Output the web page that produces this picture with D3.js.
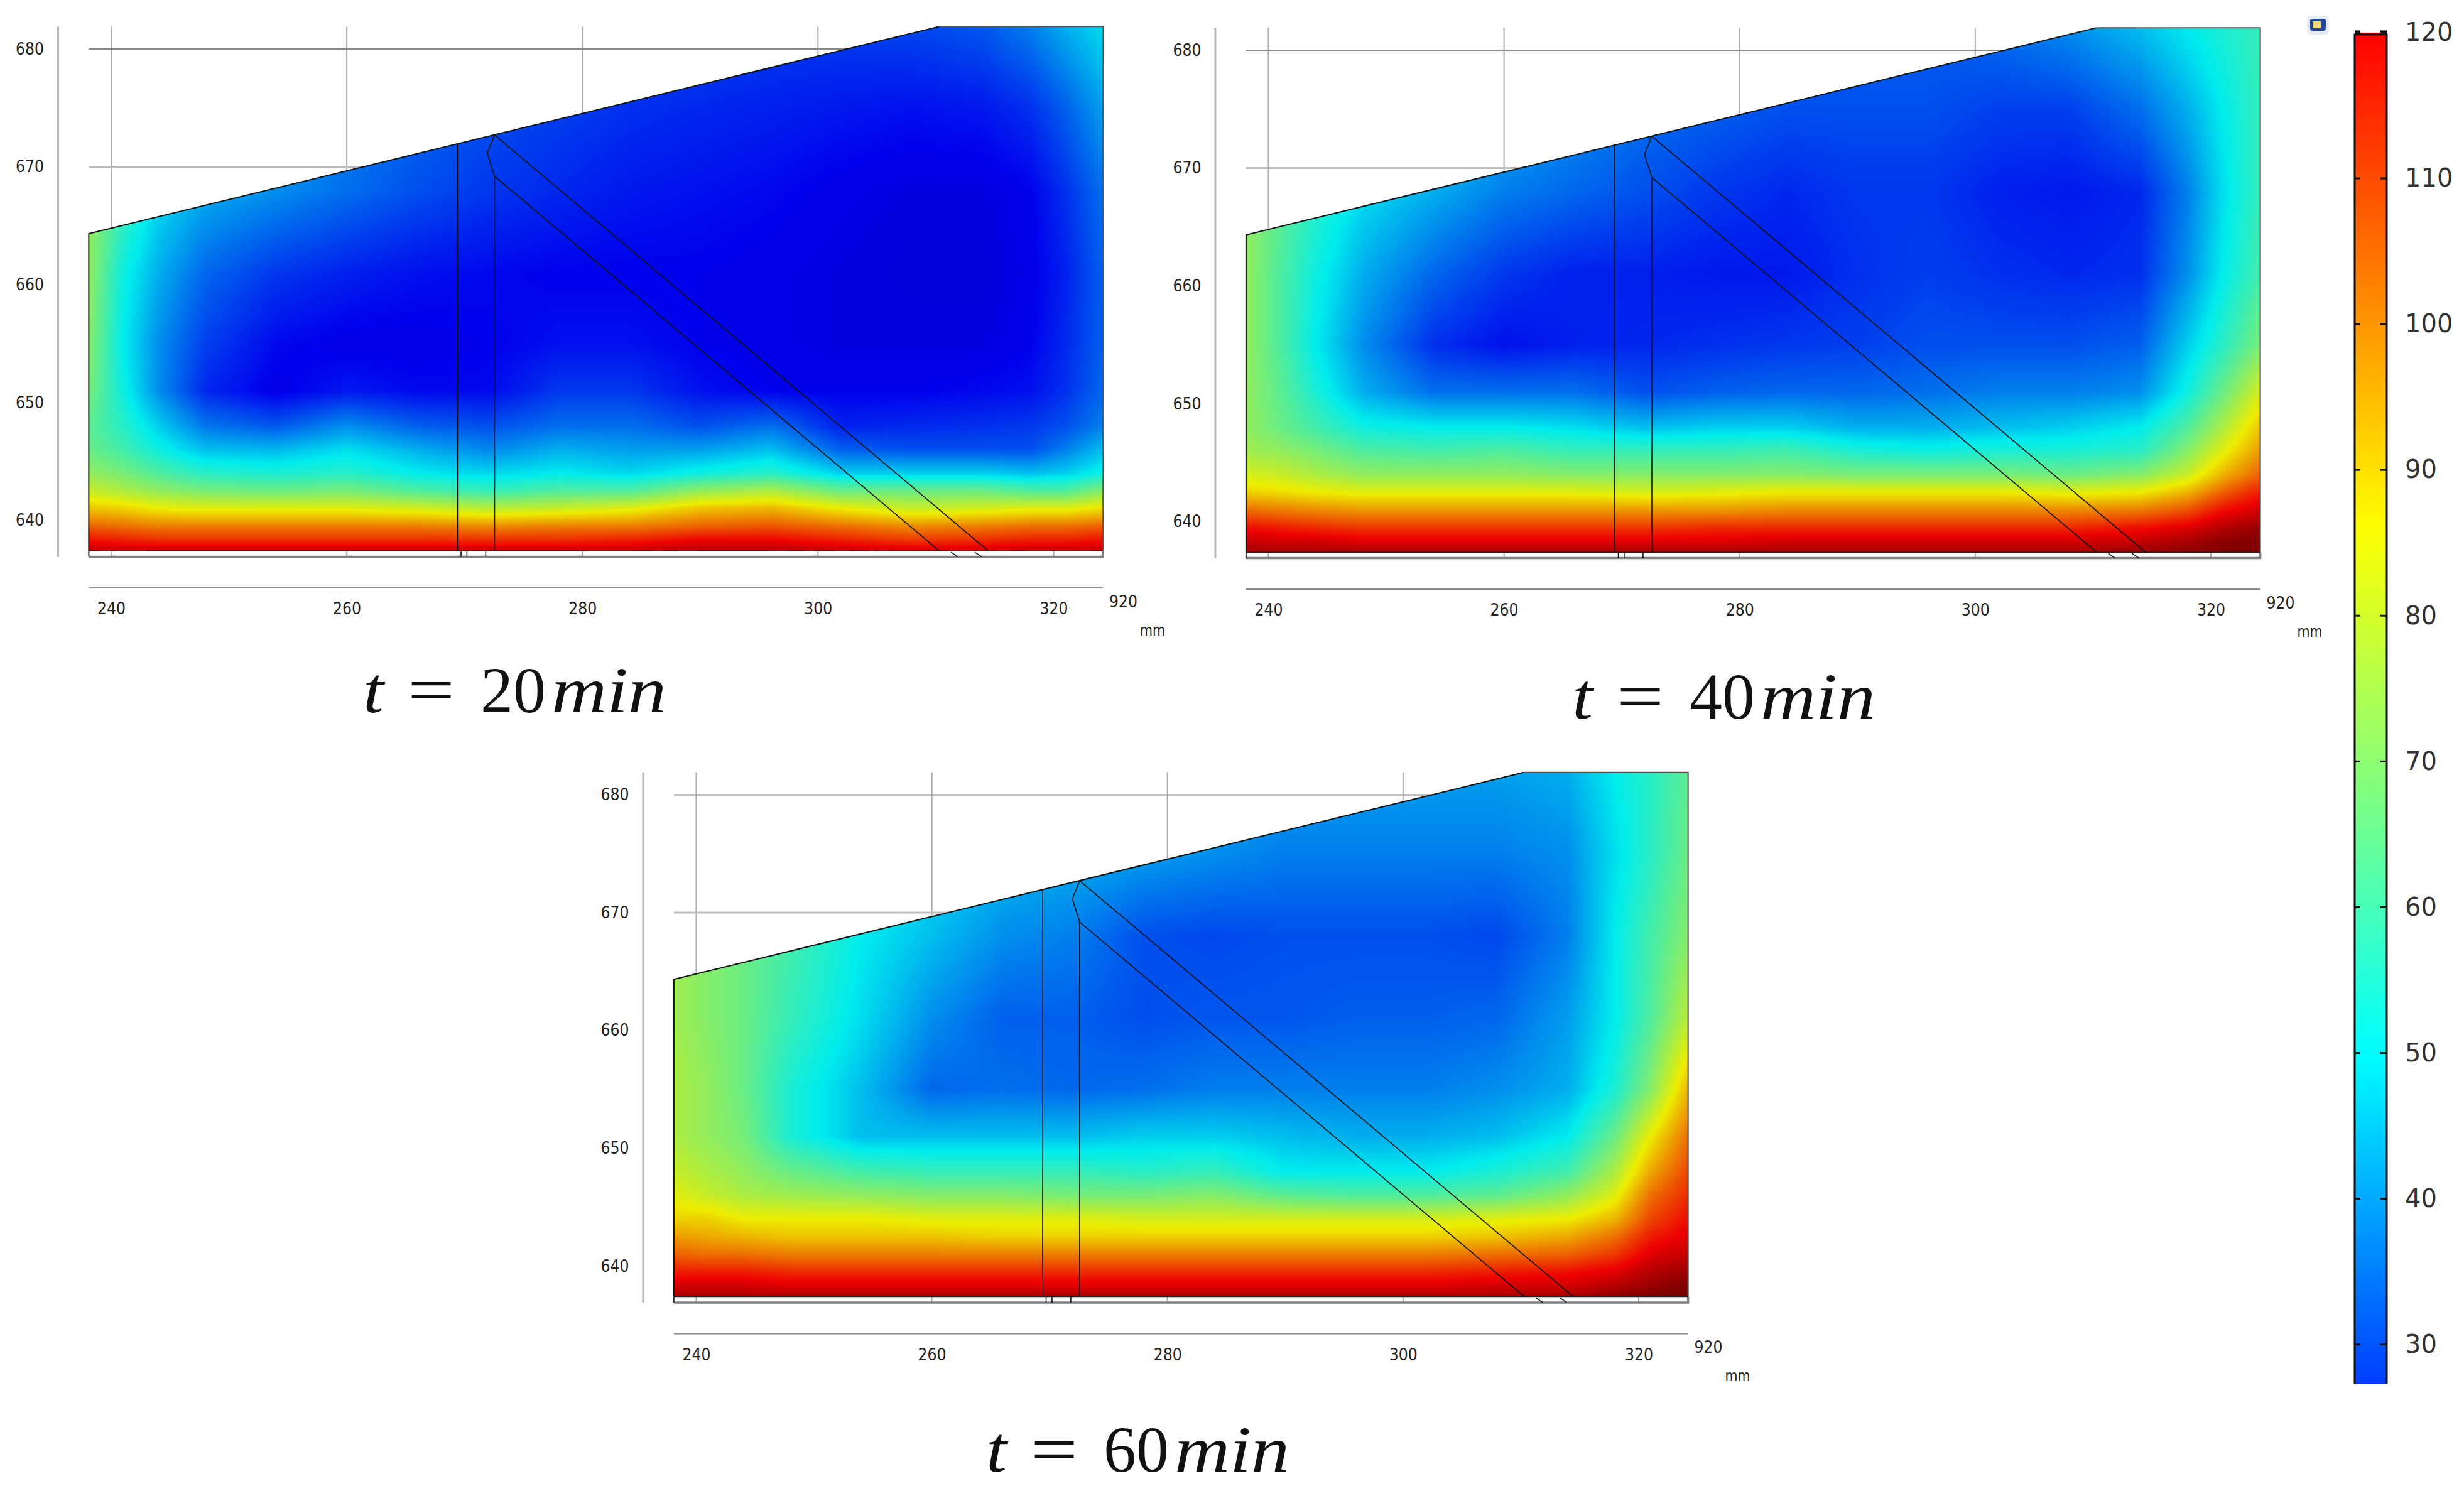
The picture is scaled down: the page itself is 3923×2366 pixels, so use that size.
<!DOCTYPE html>
<html>
<head>
    <meta charset="utf-8">
    <script src="https://d3js.org/d3.v7.min.js"></script>
    <style>
        body { margin: 0; background: white; }
        svg { display: block; }
        .ax text { font-family: "DejaVu Sans"; fill: #222; }
        .title { font-family: "Liberation Serif"; font-size: 104px; fill: #111; }
    </style>
</head>
<body>
    <svg id="chart" width="3923" height="2366"></svg>
<script>
    // temperature, at these positions (mm)
    var xNodes = [238.1, 241, 244, 248, 254, 260, 266, 272, 278, 284, 290, 296, 302, 308, 314, 318, 321, 324.2]
    var yNodes = [681.9, 675, 668, 661, 655, 651, 648, 646, 644, 642.5, 641, 639.5, 638.3, 637.4]

    var temp20 = [
        [60,55,50,45,40,36,33,32,31,30,29,28,28,29,31,36,42,48],
        [60,55,50,45,40,36,33,30,28,26,25,24,23,22,23,26,32,40],
        [72,60,48,42,38,34,30,27,25,23,22,21,19,18,18,20,26,34],
        [72,52,42,33,27,24,22,21,20,20,20,19,18,17,17,19,24,32],
        [70,50,38,28,21,19,19,20,22,22,20,19,18,18,18,20,25,32],
        [68,52,38,25,19,23,21,21,27,27,22,20,20,20,21,22,26,33],
        [64,56,46,35,31,38,32,30,34,34,30,34,24,25,26,27,30,36],
        [66,60,52,44,43,48,42,37,42,40,40,44,32,30,30,30,36,44],
        [72,68,62,56,54,56,50,47,50,47,52,56,46,46,46,44,46,52],
        [80,76,72,68,66,68,62,58,62,62,72,76,66,66,66,62,62,70],
        [92,90,86,84,84,84,82,78,80,84,92,94,86,80,82,84,84,88],
        [106,104,102,102,102,102,102,100,102,102,106,108,104,100,102,104,104,106],
        [118,116,114,114,114,114,114,114,114,116,120,120,116,112,114,116,116,118],
        [126,126,126,126,126,126,126,126,126,126,128,128,126,124,124,126,126,126]
    ]
    var temp40 = [
        [66,62,58,52,46,42,38,34,32,32,32,32,34,38,44,50,54,58],
        [68,64,58,52,46,42,38,34,32,30,30,30,28,28,34,42,50,58],
        [72,64,56,48,42,36,33,30,27,25,27,27,24,23,25,36,48,58],
        [72,62,52,42,33,27,24,24,23,23,26,28,26,25,26,38,50,60],
        [72,62,50,38,26,22,24,25,26,27,28,30,30,30,32,46,56,68],
        [72,64,54,42,34,34,34,30,32,33,33,34,36,36,38,52,66,82],
        [72,66,60,52,50,50,48,44,46,46,42,42,44,46,50,62,76,92],
        [74,72,68,62,60,62,58,58,58,60,54,52,54,54,56,70,84,98],
        [82,80,76,72,72,72,70,70,70,70,68,68,68,66,70,80,94,106],
        [90,88,86,84,84,84,84,82,84,86,86,86,86,84,86,94,106,116],
        [104,102,100,98,98,98,98,98,98,100,100,100,100,100,102,108,118,124],
        [118,116,114,112,112,112,112,112,114,114,114,114,114,114,118,122,128,132],
        [126,124,124,122,122,122,122,122,122,124,124,124,124,124,126,130,134,136],
        [130,130,130,130,130,130,130,130,130,130,130,130,130,130,132,134,136,136]
    ]
    var temp60 = [
        [70,68,66,62,56,52,48,44,42,42,40,40,40,40,42,50,56,64],
        [72,68,64,60,54,48,44,42,40,38,36,36,36,36,38,48,56,66],
        [74,70,66,60,50,44,38,36,30,29,30,30,30,29,36,50,60,70],
        [74,70,66,58,48,38,32,32,30,31,31,32,32,33,40,50,62,78],
        [76,72,66,54,44,33,34,33,34,36,36,36,36,38,42,54,70,94],
        [76,72,68,54,44,44,44,44,46,46,44,42,42,44,50,66,86,104],
        [80,76,72,66,60,58,58,58,56,58,50,50,50,54,60,76,96,110],
        [84,80,76,74,72,70,70,68,68,70,64,62,62,64,72,84,104,114],
        [90,90,86,86,86,84,84,84,82,82,82,82,82,84,86,94,110,118],
        [98,96,94,92,92,92,90,90,90,90,90,90,90,92,96,104,116,122],
        [106,104,104,102,102,102,102,102,102,102,102,102,102,104,106,112,122,126],
        [116,116,116,114,114,114,114,114,114,114,114,114,114,116,118,122,128,132],
        [124,124,124,122,122,122,122,122,122,122,122,122,122,124,124,128,132,136],
        [130,130,130,130,130,130,130,130,130,130,130,130,130,130,130,134,136,138]
    ]

    var xTicks = [240, 260, 280, 300, 320]
    var yTicks = [640, 650, 660, 670, 680]
    var gridX = [240, 260, 280, 300]
    var barTicks = [30, 40, 50, 60, 70, 80, 90, 100, 110, 120]

    // geometry of the part, mm
    var outline = [[238.1, 637.4], [238.1, 664.33], [310.26, 681.9], [324.2, 681.9], [324.2, 637.4]]
    var plates = [
        [[269.4, 671.95], [269.4, 637.4]],
        [[272.55, 672.7], [271.93, 671.16], [272.55, 669.2], [272.55, 637.4]],
        [[272.55, 672.7], [314.46, 637.4]],
        [[272.55, 669.2], [310.3, 637.4]],
        [[311.3, 637.3], [311.85, 636.9]],
        [[313.3, 637.3], [313.9, 636.9]],
        [[269.7, 637.4], [269.7, 636.9]],
        [[270.2, 637.4], [270.2, 636.9]],
        [[271.8, 637.4], [271.8, 636.9]]
    ]

    var panels = [
        { name: "t20", temp: temp20, dx: 0, dy: 0, label: "20", tx: 578, ty: 1134 },
        { name: "t40", temp: temp40, dx: 1842.5, dy: 2, label: "40", tx: 2503, ty: 1144 },
        { name: "t60", temp: temp60, dx: 931.5, dy: 1187.4, label: "60", tx: 1570, ty: 2343 }
    ]

    var color = d3.scaleLinear()
        .domain([4, 20, 50, 68, 86, 120, 137])
        .range(["#00007f", "#0000ff", "#00ffff", "#80ff80", "#ffff00", "#ff0000", "#7f0000"])
        .clamp(true)

    var svg = d3.select("#chart")
    var defs = svg.append("defs")
    var line = d3.line()

    // y nodes run downward, flip them for bisect
    var yAsc = yNodes.slice().reverse()

    function heatImage(temp, x, y) {
        var x0 = Math.round(x(xNodes[0])), x1 = Math.round(x(xNodes[xNodes.length - 1]))
        var y0 = Math.round(y(yNodes[0])), y1 = Math.round(y(yNodes[yNodes.length - 1]))
        var w = x1 - x0, h = y1 - y0
        var canvas = document.createElement("canvas")
        canvas.width = w
        canvas.height = h
        var ctx = canvas.getContext("2d")
        var img = ctx.createImageData(w, h)
        var lut = d3.range(0, 1501).map(d => d3.rgb(color(d / 10)))
        // the field is a little duller than the bar
        var shade = 0.93
        for (var j = 0; j < h; j++) {
            var my = y.invert(y0 + j + 0.5)
            var b = Math.min(Math.max(d3.bisectRight(yAsc, my), 1), yAsc.length - 1)
            var fy = (my - yAsc[b - 1]) / (yAsc[b] - yAsc[b - 1])
            var rowLow = temp[yAsc.length - b], rowHigh = temp[yAsc.length - 1 - b]
            for (var i = 0; i < w; i++) {
                var mx = x.invert(x0 + i + 0.5)
                var a = Math.min(Math.max(d3.bisectRight(xNodes, mx), 1), xNodes.length - 1)
                var fx = (mx - xNodes[a - 1]) / (xNodes[a] - xNodes[a - 1])
                var low = rowLow[a - 1] + (rowLow[a] - rowLow[a - 1]) * fx
                var high = rowHigh[a - 1] + (rowHigh[a] - rowHigh[a - 1]) * fx
                var c = lut[Math.round((low + (high - low) * fy) * 10)]
                var p = (j * w + i) * 4
                img.data[p] = c.r * shade
                img.data[p + 1] = c.g * shade
                img.data[p + 2] = c.b * shade
                img.data[p + 3] = 255
            }
        }
        ctx.putImageData(img, 0, 0)
        return { href: canvas.toDataURL("image/png"), x: x0, y: y0, w: w, h: h }
    }

    function drawPanel(p) {
        var x = d3.scaleLinear().domain([240, 320]).range([177 + p.dx, 1677.4 + p.dx])
        var y = d3.scaleLinear().domain([680, 640]).range([78 + p.dy, 828.4 + p.dy])
        var toPx = d => [x(d[0]), y(d[1])]
        var g = svg.append("g").attr("class", "panel")

        var leftEdge = xNodes[0], rightEdge = xNodes[xNodes.length - 1]
        var top = yNodes[0], bottom = yNodes[yNodes.length - 1]
        var stripBottom = 636.9

        // grid behind the part
        g.selectAll(".gridx").data(gridX).enter().append("line")
            .attr("x1", d => x(d)).attr("x2", d => x(d))
            .attr("y1", y(top)).attr("y2", y(bottom))
            .attr("stroke", "#aaa").attr("stroke-width", 2)
        g.selectAll(".gridy").data([670, 680]).enter().append("line")
            .attr("x1", x(leftEdge)).attr("x2", x(310))
            .attr("y1", d => y(d)).attr("y2", d => y(d))
            .attr("stroke", d => d == 670 ? "#bbb" : "#888")
            .attr("stroke-width", d => d == 670 ? 3 : 2)

        // left axis rule
        g.append("line")
            .attr("x1", 92.5 + p.dx).attr("x2", 92.5 + p.dx)
            .attr("y1", y(top)).attr("y2", y(stripBottom))
            .attr("stroke", "#b8b8b8").attr("stroke-width", 3)

        // strip under the part
        g.selectAll(".stripTick").data(xTicks).enter().append("line")
            .attr("x1", d => x(d)).attr("x2", d => x(d))
            .attr("y1", y(bottom)).attr("y2", y(stripBottom))
            .attr("stroke", "#aaa").attr("stroke-width", 2)
        g.append("path")
            .attr("d", line([[leftEdge, stripBottom], [rightEdge, stripBottom], [rightEdge, bottom]].map(toPx)))
            .attr("fill", "none").attr("stroke", "#808080").attr("stroke-width", 3.5)
        g.append("line")
            .attr("x1", x(leftEdge)).attr("x2", x(leftEdge))
            .attr("y1", y(bottom)).attr("y2", y(stripBottom))
            .attr("stroke", "#333").attr("stroke-width", 2)

        // temperature field, clipped to the part
        defs.append("clipPath").attr("id", "clip" + p.name)
            .append("path").attr("d", line(outline.map(toPx)) + "Z")
        var heat = heatImage(p.temp, x, y)
        g.append("image")
            .attr("href", heat.href)
            .attr("x", heat.x).attr("y", heat.y)
            .attr("width", heat.w).attr("height", heat.h)
            .attr("clip-path", "url(#clip" + p.name + ")")

        // part outline and plates
        g.append("path")
            .attr("d", line(outline.slice(0, 3).map(toPx)))
            .attr("fill", "none").attr("stroke", "#111").attr("stroke-width", 2)
        g.append("path")
            .attr("d", line(outline.slice(2).map(toPx)))
            .attr("fill", "none").attr("stroke", "#555").attr("stroke-width", 2)
        g.append("line")
            .attr("x1", x(leftEdge)).attr("x2", x(rightEdge))
            .attr("y1", y(bottom)).attr("y2", y(bottom))
            .attr("stroke", "#222").attr("stroke-width", 1.5)
        g.selectAll(".plate").data(plates).enter().append("path")
            .attr("d", d => line(d.map(toPx)))
            .attr("fill", "none").attr("stroke", "#111").attr("stroke-width", 1.6)

        // axes
        var axisY = 936 + p.dy
        g.append("line")
            .attr("x1", x(leftEdge)).attr("x2", x(rightEdge))
            .attr("y1", axisY).attr("y2", axisY)
            .attr("stroke", "#888").attr("stroke-width", 2)
        var xAxis = g.append("g").attr("class", "ax")
            .attr("transform", "translate(0," + axisY + ")")
            .call(d3.axisBottom(x).tickValues(xTicks).tickSize(0).tickPadding(24))
            .attr("font-size", 26)
        xAxis.select(".domain").remove()
        var yAxis = g.append("g").attr("class", "ax")
            .attr("transform", "translate(" + (70 + p.dx) + ",0)")
            .call(d3.axisLeft(y).tickValues(yTicks).tickSize(0).tickPadding(0))
            .attr("font-size", 26)
        yAxis.select(".domain").remove()
        g.selectAll(".ax .tick text")
            .attr("textLength", 45).attr("lengthAdjust", "spacingAndGlyphs")

        var extra = g.append("g").attr("class", "ax")
        extra.append("text").attr("x", 1766 + p.dx).attr("y", 967 + p.dy).attr("font-size", 26)
            .attr("textLength", 45).attr("lengthAdjust", "spacingAndGlyphs").text("920")
        extra.append("text").attr("x", 1815 + p.dx).attr("y", 1012 + p.dy).attr("font-size", 24)
            .attr("textLength", 40).attr("lengthAdjust", "spacingAndGlyphs").text("mm")

        // caption, each piece set to the width it has in the picture
        var cap = g.append("text").attr("class", "title").attr("y", p.ty)
        cap.append("tspan").attr("x", p.tx).attr("font-style", "italic")
            .attr("textLength", 33).attr("lengthAdjust", "spacingAndGlyphs").text("t")
        cap.append("tspan").attr("x", p.tx + 71)
            .attr("textLength", 75).attr("lengthAdjust", "spacingAndGlyphs").text("=")
        cap.append("tspan").attr("x", p.tx + 187)
            .attr("textLength", 104).attr("lengthAdjust", "spacingAndGlyphs").text(p.label)
        cap.append("tspan").attr("x", p.tx + 300).attr("font-style", "italic")
            .attr("textLength", 183).attr("lengthAdjust", "spacingAndGlyphs").text("min")
    }

    panels.forEach(drawPanel)

    // colour bar
    var barY = d3.scaleLinear().domain([30, 110]).range([2140.7, 284])
    var barMin = barY.invert(2203), barMax = 120
    var grad = defs.append("linearGradient").attr("id", "barGrad")
        .attr("x1", 0).attr("x2", 0).attr("y1", 1).attr("y2", 0)
    grad.selectAll("stop").data(d3.range(0, 1.001, 0.02)).enter().append("stop")
        .attr("offset", d => d)
        .attr("stop-color", d => color(barMin + (barMax - barMin) * d))
    var bar = svg.append("g")
    bar.append("rect")
        .attr("x", 3749).attr("width", 51)
        .attr("y", barY(barMax)).attr("height", barY(barMin) - barY(barMax))
        .attr("fill", "url(#barGrad)")
    bar.append("path")
        .attr("d", "M3749," + barY(barMin) + "V" + (barY(barMax) + 3) + "H3800V" + barY(barMin))
        .attr("fill", "none").attr("stroke", "#111").attr("stroke-width", 3)
    bar.selectAll(".t1").data(barTicks).enter().append("line")
        .attr("x1", 3749).attr("x2", 3758)
        .attr("y1", d => barY(d)).attr("y2", d => barY(d))
        .attr("stroke", "#111").attr("stroke-width", d => d == 120 ? 7 : 3)
    bar.selectAll(".t2").data(barTicks).enter().append("line")
        .attr("x1", 3790).attr("x2", 3800)
        .attr("y1", d => barY(d)).attr("y2", d => barY(d))
        .attr("stroke", "#111").attr("stroke-width", d => d == 120 ? 7 : 3)
    var barAxis = svg.append("g").attr("class", "ax")
        .attr("transform", "translate(3800,0)")
        .call(d3.axisRight(barY).tickValues(barTicks).tickSize(0).tickPadding(29))
        .attr("font-size", 40)
    barAxis.select(".domain").remove()
    barAxis.selectAll("text").style("fill", "#333")

    // the little app icon by the bar
    var icon = svg.append("g")
    icon.append("rect").attr("x", 3673).attr("y", 25).attr("width", 35).attr("height", 30).attr("rx", 6).attr("fill", "#e8ecf2")
    icon.append("rect").attr("x", 3678).attr("y", 30).attr("width", 25).attr("height", 19).attr("rx", 4).attr("fill", "#1f4a9c")
    icon.append("rect").attr("x", 3682).attr("y", 34).attr("width", 14).attr("height", 11).attr("rx", 2).attr("fill", "#f0dc70")
</script>
</body>
</html>
